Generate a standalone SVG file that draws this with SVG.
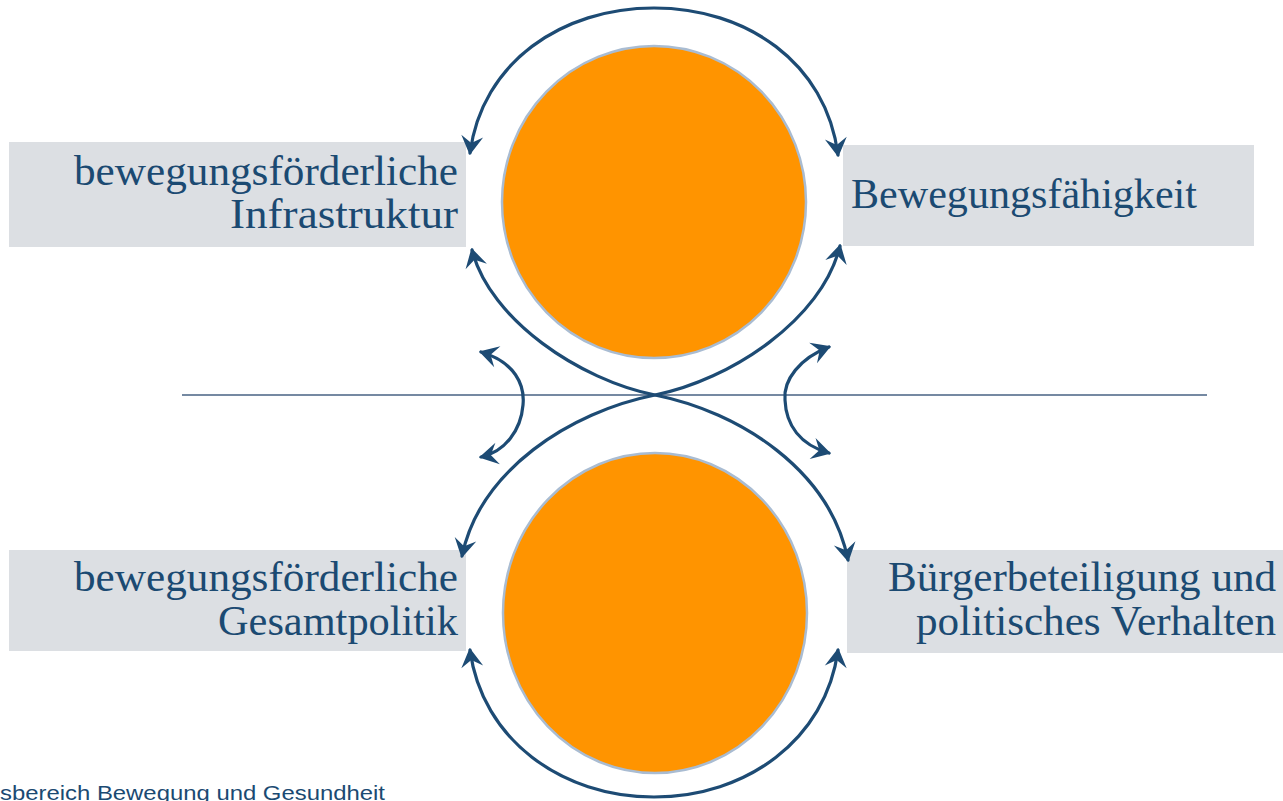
<svg xmlns="http://www.w3.org/2000/svg" width="1283" height="801" viewBox="0 0 1283 801">
  <style>
    .box { fill: #dcdfe3; }
    .label { font-family: "Liberation Serif", "Times New Roman", serif; font-size: 43px; fill: #1b4a72; text-anchor: end; }
    .disc { fill: #ff9400; stroke: #a9bcd2; stroke-width: 2.5; }
    .flow { fill: none; stroke: #1d4b74; stroke-width: 3.2; stroke-linecap: round; }
    .axis { stroke: #7589a2; stroke-width: 2; }
    .foot { font-family: "Liberation Sans", Arial, sans-serif; font-size: 21px; fill: #1b4a72; }
  </style>
  <defs>
    <marker id="head" viewBox="-20 -12 24 24" markerWidth="24" markerHeight="24" refX="0" refY="0" markerUnits="userSpaceOnUse" orient="auto-start-reverse">
      <path d="M2 0 L-17 -11 L-10 0 L-17 11 Z" fill="#1d4b74"/>
    </marker>
  </defs>

  <rect width="1283" height="801" fill="#ffffff"/>

  <!-- label boxes -->
  <g id="infrastruktur">
    <rect class="box" x="9" y="142" width="457" height="105"/>
    <text class="label" x="458" y="185" textLength="384" lengthAdjust="spacingAndGlyphs">bewegungsförderliche</text>
    <text class="label" x="458" y="228" textLength="228" lengthAdjust="spacingAndGlyphs">Infrastruktur</text>
  </g>
  <g id="bewegungsfaehigkeit">
    <rect class="box" x="843" y="145" width="411" height="101"/>
    <text class="label" x="1197" y="208" textLength="346" lengthAdjust="spacingAndGlyphs">Bewegungsfähigkeit</text>
  </g>
  <g id="gesamtpolitik">
    <rect class="box" x="9" y="550" width="457" height="101"/>
    <text class="label" x="458" y="591" textLength="384" lengthAdjust="spacingAndGlyphs">bewegungsförderliche</text>
    <text class="label" x="458" y="635" textLength="240" lengthAdjust="spacingAndGlyphs">Gesamtpolitik</text>
  </g>
  <g id="buergerbeteiligung">
    <rect class="box" x="847" y="550" width="436" height="103"/>
    <text class="label" x="1276" y="591" textLength="388" lengthAdjust="spacingAndGlyphs">Bürgerbeteiligung und</text>
    <text class="label" x="1276" y="635" textLength="360" lengthAdjust="spacingAndGlyphs">politisches Verhalten</text>
  </g>

  <!-- dividing line -->
  <line class="axis" x1="182" y1="395" x2="1207" y2="395"/>

  <!-- circles -->
  <g id="kreis-oben">
    <ellipse class="disc" cx="654" cy="202" rx="152" ry="156"/>
  </g>
  <g id="kreis-unten">
    <ellipse class="disc" cx="655" cy="613" rx="152" ry="160"/>
  </g>

  <!-- connectors -->
  <g id="connectors">
    <path class="flow" d="M470 153 C482 62 562 8 654 8 C746 8 826 62 838 155" marker-start="url(#head)" marker-end="url(#head)"/>
    <path class="flow" d="M472 250 C490 320 580 380 655 395 C740 412 830 470 848 560" marker-start="url(#head)" marker-end="url(#head)"/>
    <path class="flow" d="M840 246 C822 320 730 380 655 395 C570 412 480 470 462 556" marker-start="url(#head)" marker-end="url(#head)"/>
    <path class="flow" d="M470 650 C482 740 562 797 654 797 C746 797 826 740 838 650" marker-start="url(#head)" marker-end="url(#head)"/>
    <path class="flow" d="M481 352 C515 362 525 385 523 405 C521 430 505 452 481 457" marker-start="url(#head)" marker-end="url(#head)"/>
    <path class="flow" d="M829 347 C800 358 783 380 785 400 C786 425 800 445 829 453" marker-start="url(#head)" marker-end="url(#head)"/>
  </g>

  <text class="foot" x="0" y="800" textLength="385" lengthAdjust="spacingAndGlyphs">sbereich Bewegung und Gesundheit</text>
</svg>
